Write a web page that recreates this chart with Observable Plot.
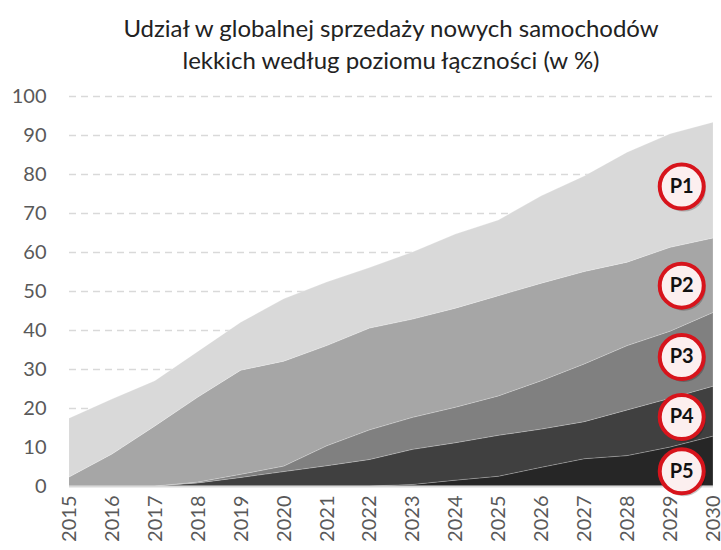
<!DOCTYPE html>
<html><head><meta charset="utf-8">
<script src="https://cdn.jsdelivr.net/npm/d3@7"></script>
<script src="https://cdn.jsdelivr.net/npm/@observablehq/plot@0.6"></script>
<style>
body{margin:0;background:#fff;font-family:Lato,"Open Sans",sans-serif;}
#title{height:80px;box-sizing:border-box;padding:12px 8px 0 69px;text-align:center;font-size:24px;line-height:32px;color:#222;}
</style></head><body>
<div id="title">Udział w globalnej sprzedaży nowych samochodów<br>lekkich według poziomu łączności (w %)</div>
<div id="chart"></div>
<script>
const years = [2015,2016,2017,2018,2019,2020,2021,2022,2023,2024,2025,2026,2027,2028,2029,2030];
const seriesNames = ["P5","P4","P3","P2","P1"];
const p1 = [15.1,14.1,11.6,11.7,12.3,16.0,16.3,15.5,17.2,19.0,19.4,22.4,24.5,28.2,29.1,29.7];
const p2 = [2.3,8.2,15.4,21.8,26.7,26.9,25.7,26.1,25.2,25.4,25.7,25.0,23.7,21.4,21.5,19.1];
const p3 = [0,0,0,0.2,0.8,1.4,5.1,7.6,8.2,9.1,10.1,12.4,14.8,16.5,17.2,18.9];
const p4 = [0,0,0,0.8,2.2,3.7,5.2,6.8,9.0,9.6,10.5,9.8,9.5,11.7,12.5,12.8];
const p5 = [0,0,0,0,0,0,0,0,0.4,1.5,2.5,4.8,7.0,7.8,10.0,12.8];
const yTicks = [0,10,20,30,40,50,60,70,80,90,100];
const labelNames = ["P1","P2","P3","P4","P5"];
const labelYear = 2029.26;
const labelValues = [76.9,51.5,33.2,17.8,3.9];
const colors = ["#262626","#404040","#808080","#a6a6a6","#d9d9d9"];

const seriesValues = {P1:p1,P2:p2,P3:p3,P4:p4,P5:p5};
const table = [];
for (const s of seriesNames) years.forEach((yr,i)=>table.push({year:yr, series:s, value:seriesValues[s][i]}));
const labels = labelNames.map((n,i)=>({name:n, year:labelYear, value:labelValues[i]}));

const chart = Plot.plot({
  width:721, height:470,
  marginLeft:69, marginRight:8, marginTop:16, marginBottom:64,
  style:{fontSize:"20px", fontFamily:"Lato, 'Open Sans', sans-serif", color:"#595959", background:"#fff", overflow:"visible"},
  x:{domain:[2015,2030], ticks:years, tickFormat:d=>String(d), tickRotate:-90, tickSize:0, tickPadding:9, label:null},
  y:{domain:[0,100], ticks:yTicks, tickSize:0, tickPadding:23, label:null},
  color:{domain:seriesNames, range:colors},
  marks:[
    Plot.ruleY(yTicks.filter(d=>d>0), {stroke:"#d9d9d9", strokeWidth:1.3, strokeDasharray:"7,5"}),
    Plot.areaY(table, {x:"year", y:"value", z:"series", fill:"series", order:seriesNames, stroke:"#ffffff", strokeOpacity:0.35, strokeWidth:0.6}),
    Plot.ruleY([0], {stroke:"#d9d9d9", strokeWidth:2}),
    Plot.dot(labels, {x:"year", y:"value", r:22, fill:"#000", fillOpacity:0.22, dx:2, dy:3}),
    Plot.dot(labels, {x:"year", y:"value", r:22, fill:"#fcefef", stroke:"#d7141c", strokeWidth:4}),
    Plot.text(labels, {x:"year", y:"value", text:"name", fontWeight:"bold", fontSize:20, fill:"#111"})
  ]
});
document.getElementById("chart").appendChild(chart);
</script>
</body></html>
